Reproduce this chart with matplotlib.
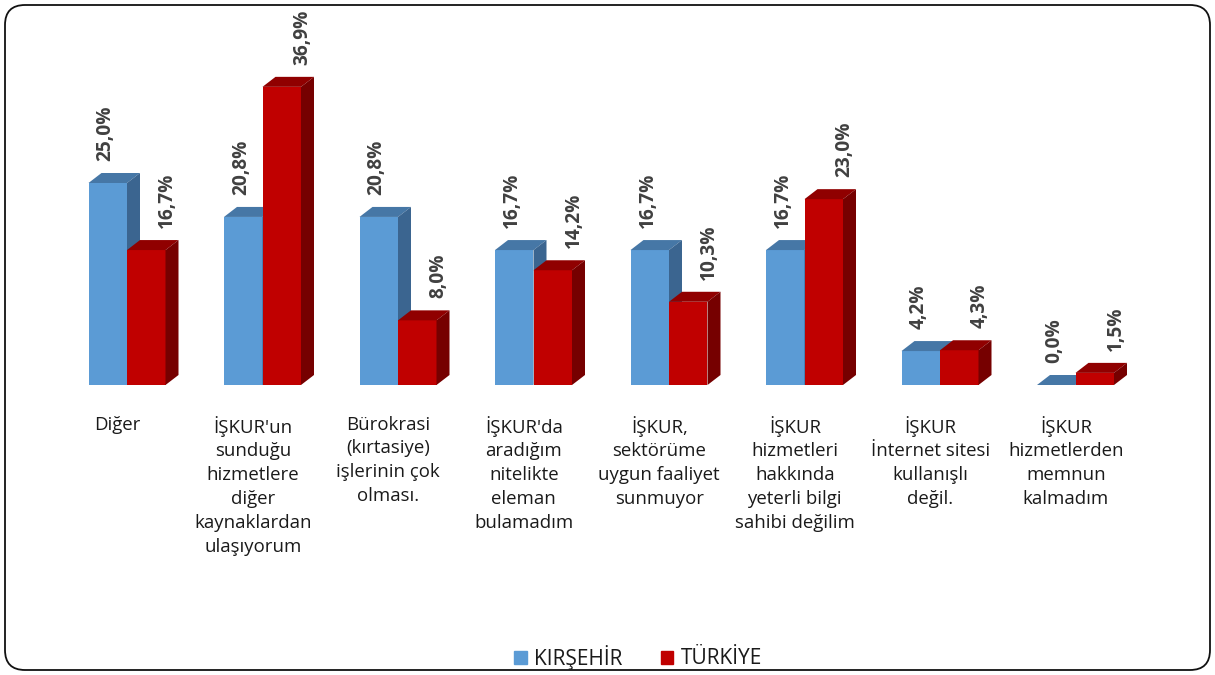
import matplotlib
matplotlib.use('Agg')
import matplotlib.pyplot as plt
from matplotlib.patches import Polygon, FancyBboxPatch, Patch

# ---- data ----
categories = [
    "Diğer",
    "İŞKUR'un\nsunduğu\nhizmetlere\ndiğer\nkaynaklardan\nulaşıyorum",
    "Bürokrasi\n(kırtasiye)\nişlerinin çok\nolması.",
    "İŞKUR'da\naradığım\nnitelikte\neleman\nbulamadım",
    "İŞKUR,\nsektörüme\nuygun faaliyet\nsunmuyor",
    "İŞKUR\nhizmetleri\nhakkında\nyeterli bilgi\nsahibi değilim",
    "İŞKUR\nİnternet sitesi\nkullanışlı\ndeğil.",
    "İŞKUR\nhizmetlerden\nmemnun\nkalmadım",
]
kirsehir = [25.0, 20.8, 20.8, 16.7, 16.7, 16.7, 4.2, 0.0]
turkiye = [16.7, 36.9, 8.0, 14.2, 10.3, 23.0, 4.3, 1.5]
series_names = ["KIRŞEHİR", "TÜRKİYE"]

# ---- style ----
FONT = "Open Sans"
plt.rcParams['font.family'] = [FONT, 'DejaVu Sans']
W, H = 1215, 675
blue = dict(front="#5B9BD5", top="#4677A6", side="#3B6590")
red = dict(front="#C00000", top="#900000", side="#760000")

fig = plt.figure(figsize=(W / 100, H / 100), dpi=100)

# background rounded frame
bg = fig.add_axes([0, 0, 1, 1], zorder=-1)
bg.set_xlim(0, W)
bg.set_ylim(0, H)
bg.axis('off')
bg.add_patch(FancyBboxPatch((5, 5), W - 10, H - 10,
                            boxstyle="round,pad=0,rounding_size=20",
                            fc="white", ec="#111111", lw=1.3))

ax_w_px, ax_h_px = 1084.0, 323.2
ax = fig.add_axes([59.25 / W, 290 / H, ax_w_px / W, ax_h_px / H])
ax.set_xlim(-0.5, 7.5)
ax.set_ylim(0, 40)
ax.axis('off')

n = len(categories)
px_x = ax_w_px / 8.0
px_y = ax_h_px / 40.0
width = 38.5 / px_x
dx = 13 / px_x
dy = 10 / px_y

x = list(range(n))


def draw_series(vals, offset, col, z, label_dx):
    xs = [xi + offset for xi in x]
    ax.bar(xs, vals, width, color=col["front"], zorder=z, linewidth=0)
    for xc, v in zip(xs, vals):
        x0, x1 = xc - width / 2, xc + width / 2
        ax.add_patch(Polygon([(x0, v), (x0 + dx, v + dy), (x1 + dx, v + dy), (x1, v)],
                             closed=True, fc=col["top"], ec="none", zorder=z))
        ax.add_patch(Polygon([(x1, 0), (x1, v), (x1 + dx, v + dy), (x1 + dx, dy)],
                             closed=True, fc=col["side"], ec="none", zorder=z))
        ax.annotate(f"{v:.1f}".replace('.', ',') + "%", xy=(xc, v),
                    xytext=(label_dx, 16), textcoords='offset points',
                    rotation=90, ha='center', va='bottom', fontsize=13.8,
                    fontweight='bold', color="#404040", annotation_clip=False)


draw_series(kirsehir, -width / 2, blue, 2, -1.5)
draw_series(turkiye, width / 2, red, 3, 15)

for xi, cat in zip(x, categories):
    ax.annotate(cat, xy=(xi, 0), xytext=(-7, -22), textcoords='offset points',
                ha='center', va='top', multialignment='center', fontsize=13.4,
                color="#1a1a1a", linespacing=1.42, annotation_clip=False)

handles = [Patch(color=blue["front"]), Patch(color=red["front"])]
fig.legend(handles, series_names, loc='center', bbox_to_anchor=(638 / W, 18 / H),
           ncol=2, frameon=False, handlelength=0.6, handleheight=0.6,
           handletextpad=0.35, columnspacing=1.85, fontsize=15,
           labelcolor="#1a1a1a")

fig.savefig("out.png", dpi=100)
